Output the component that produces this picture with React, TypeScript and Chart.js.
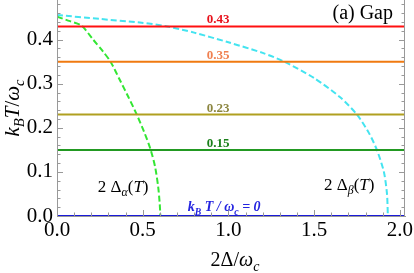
import React, { useEffect, useRef } from "react";
import { Chart, registerables } from "chart.js";
Chart.register(...registerables);

const X_MAX = 2.03;
const Y_MAX = 0.49;
const xTickValues = [0, 0.5, 1, 1.5, 2];
const yTickValues = [0, 0.1, 0.2, 0.3, 0.4];

const levels = [0.43, 0.35, 0.23, 0.15, 0];
const levelLineColors = ["#ff1010", "#f07a10", "#b0a020", "#229922", "#1a1ad8"];
const levelTextColors = ["#e8101a", "#f08050", "#8c8640", "#1a801a", "#2424e0"];
const levelTexts = ["0.43", "0.35", "0.23", "0.15", ""];

const alphaX = [0, 0.076, 0.143, 0.211, 0.269, 0.314, 0.366, 0.415, 0.462, 0.507, 0.545, 0.572, 0.59, 0.599, 0.603];
const alphaT = [0.452, 0.442, 0.432, 0.4, 0.373, 0.349, 0.309, 0.271, 0.233, 0.192, 0.152, 0.112, 0.067, 0.029, 0];

const betaX = [0, 0.25, 0.483, 0.63, 0.8, 1.0, 1.2, 1.326, 1.5, 1.65, 1.75, 1.82, 1.866, 1.907, 1.925, 1.93];
const betaT = [0.456, 0.447, 0.439, 0.431, 0.416, 0.394, 0.37, 0.35, 0.313, 0.27, 0.23, 0.188, 0.15, 0.1, 0.05, 0];

const betaTopX = [0, 0];
const betaTopT = [0.49, 0.456];

const FONT = '"Liberation Serif", "Times New Roman", serif';

type Seg = { t: string; it?: boolean; b?: boolean; sub?: boolean };

function segFont(s: Seg, size: number) {
  const sz = s.sub ? size * 0.7 : size;
  return `${s.it ? "italic " : ""}${s.b ? "bold " : ""}${sz}px ${FONT}`;
}

function drawRich(ctx: CanvasRenderingContext2D, segs: Seg[], x: number, y: number, size: number, color: string, align: "left" | "center" | "right") {
  ctx.save();
  ctx.textBaseline = "alphabetic";
  ctx.textAlign = "left";
  ctx.fillStyle = color;
  let total = 0;
  const widths = segs.map((s) => {
    ctx.font = segFont(s, size);
    const w = ctx.measureText(s.t).width;
    total += w;
    return w;
  });
  let cx = align === "left" ? x : align === "center" ? x - total / 2 : x - total;
  segs.forEach((s, i) => {
    ctx.font = segFont(s, size);
    ctx.fillText(s.t, cx, y + (s.sub ? size * 0.25 : 0));
    cx += widths[i];
  });
  ctx.restore();
}

const pts = (xs: number[], ys: number[]) => xs.map((x, i) => ({ x, y: ys[i] }));

const decorPlugin = {
  id: "decor",
  afterDatasetsDraw(chart: any) {
    const { ctx, chartArea } = chart;
    const xs = chart.scales.x;
    const ys = chart.scales.y;
    const { left, right, top, bottom } = chartArea;
    ctx.save();
    ctx.strokeStyle = "#999999";
    ctx.lineWidth = 1;
    ctx.beginPath();
    ctx.moveTo(left + 0.5, top);
    ctx.lineTo(left + 0.5, bottom);
    ctx.moveTo(right - 0.5, top);
    ctx.lineTo(right - 0.5, bottom);
    ctx.stroke();
    // inward ticks
    ctx.beginPath();
    for (let i = 0; i <= 20; i++) {
      const v = i / 10;
      const px = Math.round(xs.getPixelForValue(v)) + 0.5;
      const len = i % 5 === 0 ? 6 : 3.5;
      ctx.moveTo(px, bottom);
      ctx.lineTo(px, bottom - len);
    }
    for (let i = 0; i <= 24; i++) {
      const v = i / 50;
      const py = Math.round(ys.getPixelForValue(v)) + 0.5;
      const len = i % 5 === 0 ? 6 : 3.5;
      ctx.moveTo(left, py);
      ctx.lineTo(left + len, py);
      ctx.moveTo(right, py);
      ctx.lineTo(right - len, py);
    }
    ctx.stroke();
    ctx.restore();

    // level labels
    levels.forEach((lv, i) => {
      if (!levelTexts[i]) return;
      drawRich(ctx, [{ t: levelTexts[i], b: true }], xs.getPixelForValue(0.94), ys.getPixelForValue(lv) - 3, 13, levelTextColors[i], "center");
    });
    drawRich(
      ctx,
      [
        { t: "k", it: true, b: true },
        { t: "B", it: true, b: true, sub: true },
        { t: " T / ω", it: true, b: true },
        { t: "c", it: true, b: true, sub: true },
        { t: " = 0", it: true, b: true },
      ],
      xs.getPixelForValue(0.975),
      ys.getPixelForValue(0) - 5,
      14,
      levelTextColors[4],
      "center"
    );

    // curve labels
    drawRich(
      ctx,
      [{ t: "2 Δ" }, { t: "α", it: true, sub: true }, { t: "(" }, { t: "T", it: true }, { t: ")" }],
      xs.getPixelForValue(0.238),
      ys.getPixelForValue(0.055),
      17,
      "#000",
      "left"
    );
    drawRich(
      ctx,
      [{ t: "2 Δ" }, { t: "β", it: true, sub: true }, { t: "(" }, { t: "T", it: true }, { t: ")" }],
      xs.getPixelForValue(1.558),
      ys.getPixelForValue(0.059),
      17,
      "#000",
      "left"
    );
    drawRich(ctx, [{ t: "(a) Gap" }], right - 12, top + 19, 20, "#000", "right");

    // axis titles
    drawRich(
      ctx,
      [{ t: "2Δ/" }, { t: "ω", it: true }, { t: "c", it: true, sub: true }],
      (left + right) / 2 + 4,
      266,
      20,
      "#000",
      "center"
    );
    ctx.save();
    ctx.translate(19, (top + bottom) / 2);
    ctx.rotate(-Math.PI / 2);
    drawRich(
      ctx,
      [
        { t: "k", it: true },
        { t: "B", it: true, sub: true },
        { t: "T", it: true },
        { t: "/" },
        { t: "ω", it: true },
        { t: "c", it: true, sub: true },
      ],
      0,
      0,
      21,
      "#000",
      "center"
    );
    ctx.restore();
  },
};

export default function App() {
  const ref = useRef<HTMLCanvasElement | null>(null);
  useEffect(() => {
    if (!ref.current) return;
    const datasets: any[] = levels.map((lv, i) => ({
      data: [
        { x: 0, y: lv },
        { x: X_MAX, y: lv },
      ],
      showLine: true,
      borderColor: levelLineColors[i],
      borderWidth: 2,
      pointRadius: 0,
    }));
    datasets.push({
      data: pts(alphaX, alphaT),
      showLine: true,
      borderColor: "#33e633",
      borderWidth: 2,
      borderDash: [6, 3],
      pointRadius: 0,
      tension: 0.25,
    });
    datasets.push({
      data: pts(betaX, betaT),
      showLine: true,
      borderColor: "#44e4f0",
      borderWidth: 2,
      borderDash: [6, 3],
      pointRadius: 0,
      tension: 0.25,
    });
    datasets.push({
      data: pts(betaTopX, betaTopT),
      showLine: true,
      borderColor: "#44e4f0",
      borderWidth: 2,
      pointRadius: 0,
    });
    const tickFont = { family: FONT, size: 21 };
    const chart = new Chart(ref.current, {
      type: "scatter",
      data: { datasets },
      options: {
        animation: false,
        responsive: false,
        maintainAspectRatio: false,
        layout: { padding: { top: 0, right: 9, left: 0, bottom: 0 } },
        plugins: { legend: { display: false }, tooltip: { enabled: false } },
        scales: {
          x: {
            type: "linear",
            min: 0,
            max: X_MAX,
            afterBuildTicks: (s: any) => {
              s.ticks = xTickValues.map((v) => ({ value: v }));
            },
            afterFit: (s: any) => {
              s.height = 57;
              s.paddingLeft = 0;
              s.paddingRight = 0;
            },
            grid: { display: false, drawTicks: false },
            border: { display: true, color: "#999999", width: 1 },
            ticks: {
              callback: (v: any) => Number(v).toFixed(1),
              font: tickFont,
              color: "#000",
              padding: 2,
              maxRotation: 0,
              autoSkip: false,
            },
          },
          y: {
            type: "linear",
            min: 0,
            max: Y_MAX,
            afterBuildTicks: (s: any) => {
              s.ticks = yTickValues.map((v) => ({ value: v }));
            },
            afterFit: (s: any) => {
              s.width = 57;
              s.paddingTop = 0;
              s.paddingBottom = 0;
            },
            grid: { display: false, drawTicks: false },
            border: { display: false },
            ticks: {
              callback: (v: any) => Number(v).toFixed(1),
              font: tickFont,
              color: "#000",
              padding: 4,
              autoSkip: false,
            },
          },
        },
      },
      plugins: [decorPlugin],
    } as any);
    return () => chart.destroy();
  }, []);
  return (
    <div style={{ position: "fixed", left: 0, top: 0, width: 414, height: 273, background: "#fff" }}>
      <canvas ref={ref} width={414} height={273} style={{ width: 414, height: 273, display: "block" }} />
    </div>
  );
}
